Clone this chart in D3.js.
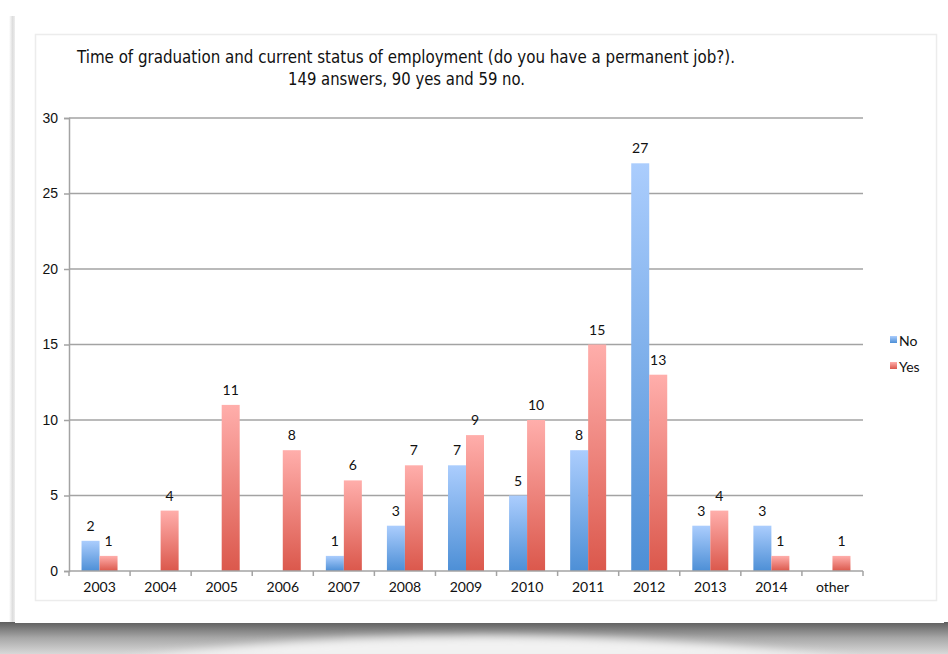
<!DOCTYPE html>
<html>
<head>
<meta charset="utf-8">
<script src="https://cdn.jsdelivr.net/npm/d3@7"></script>
<style>
  body { margin: 0; background: #fff; }
  svg { display: block; }
</style>
</head>
<body>
<div id="chart"></div>
<script>
// data
var years = ["2003","2004","2005","2006","2007","2008","2009","2010","2011","2012","2013","2014","other"];
var noValues  = [2, 0, 0, 0, 1, 3, 7, 5, 8, 27, 3, 3, 0];
var yesValues = [1, 4, 11, 8, 6, 7, 9, 10, 15, 13, 4, 1, 1];
var yTicks = [0, 5, 10, 15, 20, 25, 30];
var seriesNames = ["No", "Yes"];

var W = 948, H = 654;
var margin = {top: 118, left: 69, right: 85, bottom: 83};
var width = W - margin.left - margin.right,
    height = H - margin.top - margin.bottom;

var svg = d3.select("#chart").append("svg")
  .attr("width", W).attr("height", H);

var defs = svg.append("defs");

function vgrad(id, stops) {
  var g = defs.append("linearGradient").attr("id", id)
    .attr("x1", 0).attr("y1", 0).attr("x2", 0).attr("y2", 1);
  stops.forEach(function(s) {
    g.append("stop").attr("offset", s[0]).attr("stop-color", s[1]);
  });
}
vgrad("gNo", [[0, "#abcdfd"], [1, "#4d8fd6"]]);
vgrad("gYes", [[0, "#ffaeab"], [1, "#db584c"]]);
vgrad("gShadow", [[0, "#5e5e5e"], [0.5, "#a8a8a8"], [1, "#d8d8d8"]]);

var hg = defs.append("linearGradient").attr("id", "gSide")
  .attr("x1", 0).attr("y1", 0).attr("x2", 1).attr("y2", 0);
hg.append("stop").attr("offset", 0).attr("stop-color", "#ffffff");
hg.append("stop").attr("offset", 0.6).attr("stop-color", "#dddddd");
hg.append("stop").attr("offset", 1).attr("stop-color", "#eeeeee");

var blur = defs.append("filter").attr("id", "blur")
  .attr("x", "-10%").attr("y", "-50%").attr("width", "120%").attr("height", "200%");
blur.append("feGaussianBlur").attr("stdDeviation", 4);

// paper shadow under the card
svg.append("rect").attr("x", 0).attr("y", 622).attr("width", W).attr("height", 32)
  .attr("fill", "url(#gShadow)");
svg.append("path")
  .attr("d", "M120,660 Q470,612 860,660 Z")
  .attr("fill", "#f2f2f2").attr("filter", "url(#blur)");
svg.append("rect").attr("x", 9).attr("y", 16).attr("width", 6).attr("height", 606)
  .attr("fill", "url(#gSide)");

// card
svg.append("rect").attr("x", 15).attr("y", 12).attr("width", 929).attr("height", 611)
  .attr("fill", "#fff");
svg.append("rect").attr("x", 35.5).attr("y", 34.5).attr("width", 901).attr("height", 566)
  .attr("fill", "none").attr("stroke", "#ececec").attr("stroke-width", 1.5);

// title
svg.append("text").attr("x", 77).attr("y", 63)
  .attr("textLength", 658).attr("lengthAdjust", "spacingAndGlyphs")
  .style("font-family", "'DejaVu Sans Condensed', 'Open Sans', sans-serif")
  .style("font-size", "17px").attr("fill", "#111")
  .text("Time of graduation and current status of employment (do you have a permanent job?).");
svg.append("text").attr("x", 288).attr("y", 85)
  .attr("textLength", 237).attr("lengthAdjust", "spacingAndGlyphs")
  .style("font-family", "'DejaVu Sans Condensed', 'Open Sans', sans-serif")
  .style("font-size", "17px").attr("fill", "#111")
  .text("149 answers, 90 yes and 59 no.");

var g = svg.append("g")
  .attr("transform", "translate(" + margin.left + "," + margin.top + ")")
  .style("font-family", "Lato, 'Open Sans', sans-serif");

var x = d3.scaleBand().domain(years).range([0, width]);
var x1 = d3.scaleBand().domain(seriesNames).range([x.bandwidth() / 2 - 18, x.bandwidth() / 2 + 18]);
var y = d3.scaleLinear().domain([0, 30]).range([height, 0]);

// gridlines
g.selectAll(".grid").data(yTicks.slice(1)).enter().append("line")
  .attr("x1", 0).attr("x2", width)
  .attr("y1", function(d) { return y(d); }).attr("y2", function(d) { return y(d); })
  .attr("stroke", "#a3a3a3").attr("stroke-width", 1.5);

// y axis
var yAxis = g.append("g").call(d3.axisLeft(y).tickValues(yTicks).tickSize(5).tickPadding(6));
yAxis.select(".domain").attr("stroke", "#a3a3a3").attr("stroke-width", 1.5);
yAxis.selectAll(".tick line").attr("stroke", "#a3a3a3").attr("stroke-width", 1.5);
yAxis.selectAll("text").style("font-size", "14px").attr("fill", "#111");

// bars
var rows = years.map(function(yr, i) { return {year: yr, No: noValues[i], Yes: yesValues[i]}; });
var groups = g.selectAll(".grp").data(rows).enter().append("g")
  .attr("transform", function(d) { return "translate(" + x(d.year) + ",0)"; });

var cells = groups.selectAll("g").data(function(d) {
  return seriesNames.map(function(k) { return {key: k, value: d[k]}; });
}).enter().append("g");

cells.filter(function(d) { return d.value > 0; }).append("rect")
  .attr("x", function(d) { return x1(d.key); })
  .attr("width", x1.bandwidth())
  .attr("y", function(d) { return y(d.value); })
  .attr("height", function(d) { return height - y(d.value); })
  .attr("fill", function(d) { return d.key === "No" ? "url(#gNo)" : "url(#gYes)"; });

cells.filter(function(d) { return d.value > 0; }).append("text")
  .attr("x", function(d) { return x1(d.key) + x1.bandwidth() / 2; })
  .attr("y", function(d) { return y(d.value) - 10; })
  .attr("text-anchor", "middle")
  .style("font-size", "14px").attr("fill", "#111")
  .text(function(d) { return d.value; });

// x axis with ticks between categories
var xAxisG = g.append("g").attr("transform", "translate(0," + height + ")");
xAxisG.append("line").attr("x1", 0).attr("x2", width)
  .attr("stroke", "#a3a3a3").attr("stroke-width", 1.5);
xAxisG.selectAll(".xt").data(d3.range(years.length + 1)).enter().append("line")
  .attr("x1", function(i) { return i * x.step(); }).attr("x2", function(i) { return i * x.step(); })
  .attr("y1", 0).attr("y2", 5)
  .attr("stroke", "#a3a3a3").attr("stroke-width", 1.5);
xAxisG.selectAll(".xl").data(years).enter().append("text")
  .attr("x", function(d) { return x(d) + x.bandwidth() / 2; })
  .attr("y", 21)
  .attr("text-anchor", "middle")
  .style("font-size", "14px").attr("fill", "#111")
  .text(function(d) { return d; });

// legend
var legend = svg.append("g").style("font-family", "Lato, 'Open Sans', sans-serif");
seriesNames.forEach(function(name, i) {
  legend.append("rect").attr("x", 890).attr("y", 336 + i * 26).attr("width", 7).attr("height", 7)
    .attr("fill", name === "No" ? "url(#gNo)" : "url(#gYes)");
  legend.append("text").attr("x", 899).attr("y", 346 + i * 26)
    .style("font-size", "14px").attr("fill", "#111").text(name);
});
</script>
</body>
</html>
